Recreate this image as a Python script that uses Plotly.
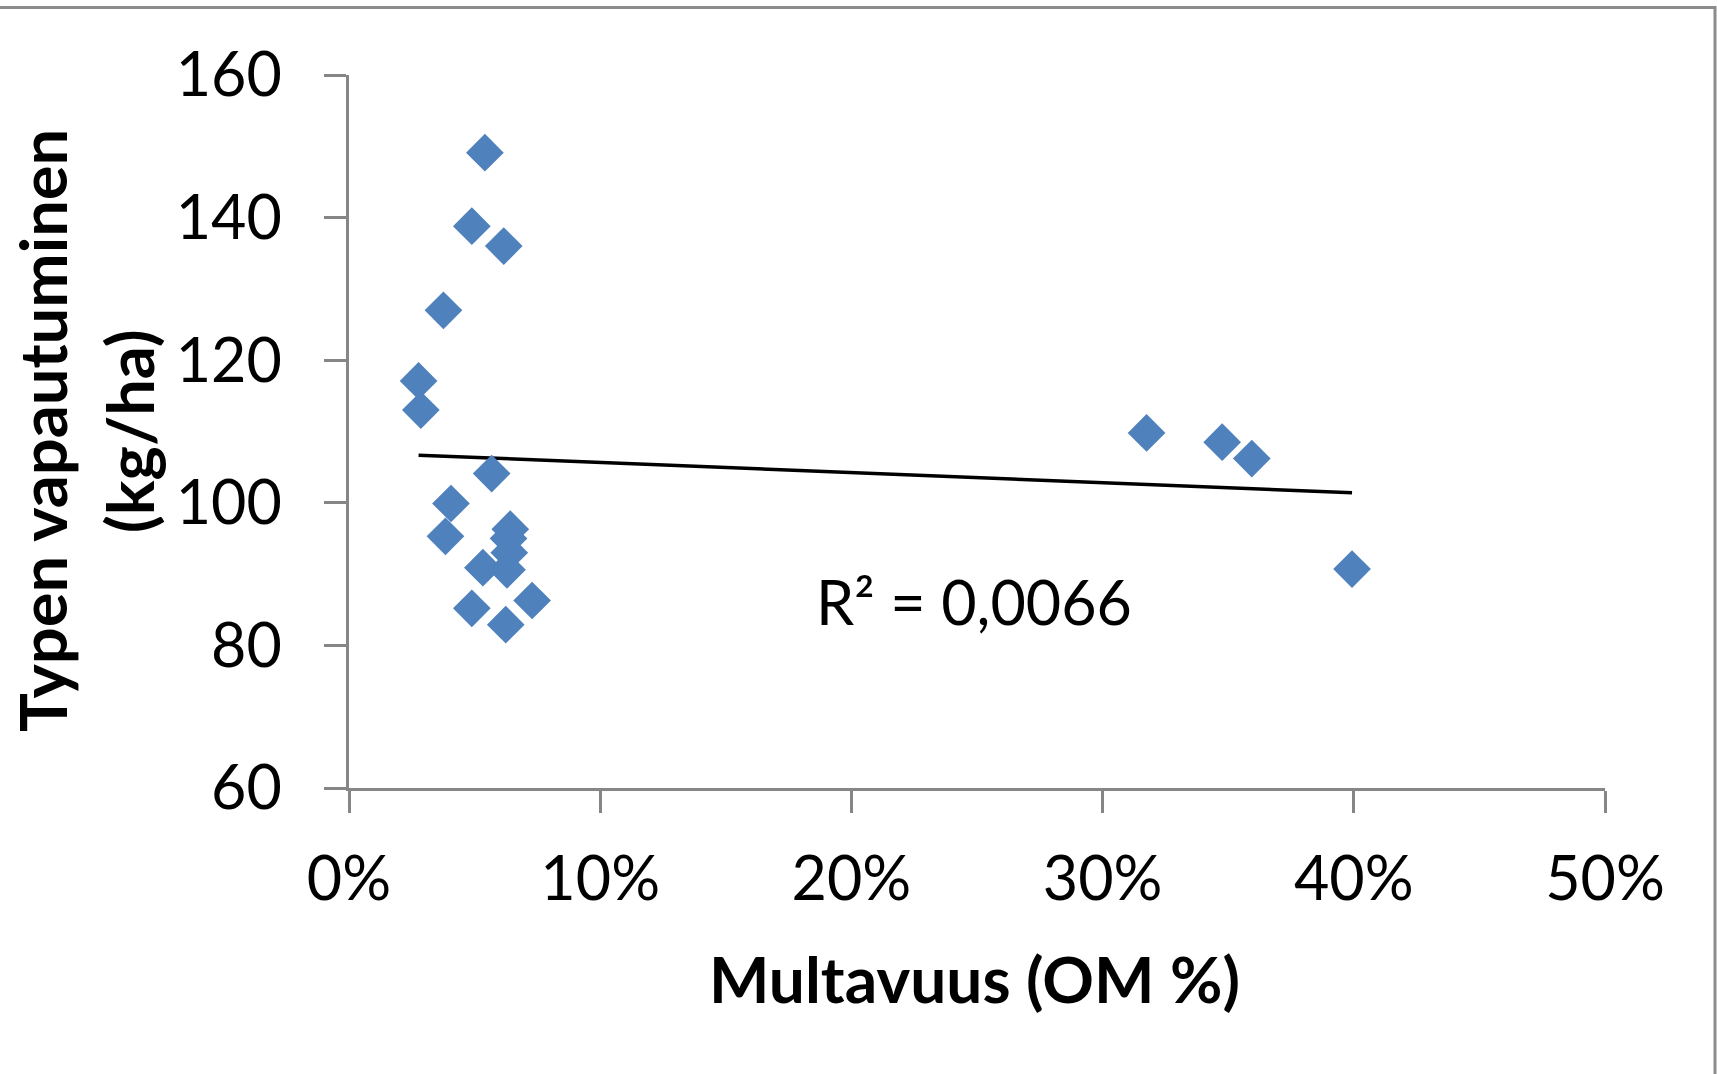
import numpy as np
import plotly.graph_objects as go

# Data (organic matter fraction, N release kg/ha)
om_fraction = [0.0541, 0.0489, 0.0616, 0.0376, 0.0277, 0.0286, 0.0568, 0.0406, 0.0384,
               0.0642, 0.0635, 0.0638, 0.0533, 0.0629, 0.0489, 0.0729, 0.0624,
               0.3175, 0.3476, 0.3594, 0.3993]
n_release = [149.1, 138.8, 136.0, 127.0, 117.1, 113.0, 104.1, 99.9, 95.3,
             96.3, 95.0, 93.0, 90.9, 90.6, 85.2, 86.3, 82.9,
             109.8, 108.5, 106.2, 90.7]
y_ticks = [60, 80, 100, 120, 140, 160]
x_ticks = [0, 0.1, 0.2, 0.3, 0.4, 0.5]
x_title = "Multavuus (OM %)"
y_title_lines = ["Typen vapautuminen", "(kg/ha)"]
r2_label = "R² = 0,0066"

W, H = 1717, 1074
L, R, T, B = 349, 112, 75, 286
pw, ph = W - L - R, H - T - B

def px_x(p):
    return (p - L) / pw

def px_y(p):
    return (H - B - p) / ph

slope, intercept = np.polyfit(om_fraction, n_release, 1)
x_line = np.array([min(om_fraction), max(om_fraction)])
y_line = slope * x_line + intercept

fig = go.Figure()
fig.add_trace(go.Scatter(
    x=x_line, y=y_line, mode="lines",
    line=dict(color="black", width=3.5), showlegend=False, hoverinfo="skip"))
fig.add_trace(go.Scatter(
    x=om_fraction, y=n_release, mode="markers",
    marker=dict(symbol="diamond", size=29, color="#4F81BD",
                line=dict(width=0)),
    showlegend=False))

axis_color = "#868686"
font_family = "Lato, Open Sans, sans-serif"

fig.update_xaxes(
    range=[0, 0.5], tickvals=x_ticks, tickformat=".0%",
    showgrid=False, zeroline=False, showline=True, linecolor=axis_color, linewidth=3,
    ticks="outside", ticklen=22, tickwidth=3, tickcolor=axis_color,
    tickfont=dict(family=font_family, size=61, color="black"),
    ticklabelstandoff=14)
fig.update_yaxes(
    range=[60, 160], tickvals=y_ticks,
    showgrid=False, zeroline=False, showline=True, linecolor=axis_color, linewidth=3,
    ticks="outside", ticklen=22, tickwidth=3, tickcolor=axis_color,
    tickfont=dict(family=font_family, size=61, color="black"),
    ticklabelstandoff=30)

annotations = [
    dict(text=r2_label, x=0.249, y=86.2, xref="x", yref="y", showarrow=False,
         font=dict(family=font_family, size=61, color="black")),
    dict(text="<b>" + x_title + "</b>", x=px_x(974), y=px_y(978), xref="paper", yref="paper",
         showarrow=False, xanchor="center", yanchor="middle",
         font=dict(family=font_family, size=64, color="black")),
    dict(text="<b>" + y_title_lines[0] + "</b>", x=px_x(42), y=px_y(431), xref="paper", yref="paper",
         showarrow=False, textangle=-90, xanchor="center", yanchor="middle",
         font=dict(family=font_family, size=65, color="black")),
    dict(text="<b>" + y_title_lines[1] + "</b>", x=px_x(129), y=px_y(431), xref="paper", yref="paper",
         showarrow=False, textangle=-90, xanchor="center", yanchor="middle",
         font=dict(family=font_family, size=65, color="black")),
]

border_color = "#8C8C8C"
shapes = [
    dict(type="line", xref="paper", yref="paper", x0=px_x(0), x1=px_x(1716), y0=px_y(7.5), y1=px_y(7.5),
         line=dict(color=border_color, width=3)),
    dict(type="line", xref="paper", yref="paper", x0=px_x(1715), x1=px_x(1715), y0=px_y(6), y1=px_y(1074),
         line=dict(color=border_color, width=3)),
]

fig.update_layout(
    width=W, height=H,
    margin=dict(l=L, r=R, t=T, b=B),
    paper_bgcolor="white", plot_bgcolor="white",
    annotations=annotations, shapes=shapes,
    showlegend=False)

fig.write_html("out.html", config={"displayModeBar": False},
               post_script="document.body.style.margin='0';document.body.style.overflow='hidden';")
